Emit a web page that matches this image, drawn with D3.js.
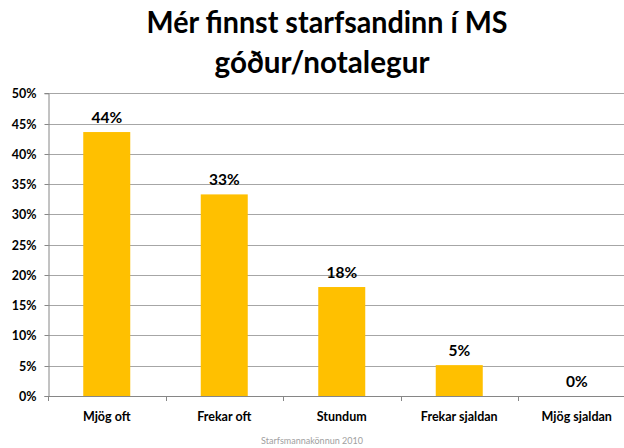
<!DOCTYPE html>
<html lang="is">
<head>
<meta charset="utf-8">
<title>Mér finnst starfsandinn í MS góður/notalegur</title>
<script src="https://d3js.org/d3.v7.min.js"></script>
<style>
  body { margin: 0; background: #fff; }
  svg { display: block; font-family: Lato, "Open Sans", sans-serif; }
</style>
</head>
<body>
<script>
// data
var categories = ["Mjög oft", "Frekar oft", "Stundum", "Frekar sjaldan", "Mjög sjaldan"];
var values = [0.436, 0.333, 0.180, 0.051, 0.0];
var yTicks = [0, 0.05, 0.1, 0.15, 0.2, 0.25, 0.3, 0.35, 0.4, 0.45, 0.5];
var titleLines = ["Mér finnst starfsandinn í MS", "góður/notalegur"];
var sourceNote = "Starfsmannakönnun 2010";

var w = 624, h = 448;
var plotLeft = 48, step = 117.5;
var plotTop = 93.3, plotBottom = 396;

var svg = d3.select("body").append("svg")
  .attr("width", w)
  .attr("height", h);

var x = d3.scaleBand()
  .domain(categories)
  .range([plotLeft, plotLeft + step * categories.length])
  .paddingInner(0.6)
  .paddingOuter(0.3);

var y = d3.scaleLinear()
  .domain([0, 0.5])
  .range([plotBottom, plotTop]);

// title
svg.selectAll("text.title")
  .data(titleLines)
  .enter().append("text")
  .attr("class", "title")
  .attr("x", function(d, i) { return i == 0 ? 327 : 322; })
  .attr("y", function(d, i) { return 33 + i * 40; })
  .attr("text-anchor", "middle")
  .attr("textLength", function(d, i) { return i == 0 ? 361 : 215; })
  .attr("lengthAdjust", "spacingAndGlyphs")
  .style("font-size", "31px")
  .style("font-weight", "bold")
  .style("fill", "#000")
  .text(function(d) { return d; });

// gridlines
svg.append("g")
  .selectAll("line")
  .data(yTicks.slice(1))
  .enter().append("line")
  .attr("x1", plotLeft)
  .attr("x2", w)
  .attr("y1", function(d) { return Math.round(y(d)) + 0.5; })
  .attr("y2", function(d) { return Math.round(y(d)) + 0.5; })
  .style("stroke", "#a6a6a6")
  .style("stroke-width", 1);

// y axis
var yAxis = d3.axisLeft(y)
  .tickValues(yTicks)
  .tickSize(4)
  .tickPadding(8)
  .tickFormat(d3.format(".0%"));

var gy = svg.append("g")
  .attr("transform", "translate(" + (plotLeft + 0.5) + ",0)")
  .call(yAxis);
gy.select(".domain").style("stroke", "#868686");
gy.selectAll(".tick line").style("stroke", "#868686");
gy.selectAll(".tick").attr("transform", function(d) { return "translate(0," + (Math.round(y(d)) + 0.5) + ")"; });
gy.selectAll(".tick text")
  .style("font-family", "Lato, sans-serif")
  .style("font-size", "12.5px")
  .style("font-weight", "bold")
  .style("fill", "#000");

// bars
svg.append("g")
  .selectAll("rect")
  .data(values)
  .enter().append("rect")
  .attr("x", function(d, i) { return x(categories[i]); })
  .attr("y", function(d) { return y(d); })
  .attr("width", x.bandwidth())
  .attr("height", function(d) { return plotBottom - y(d); })
  .style("fill", "#ffc000");

// x axis line + tick marks at category boundaries
var bounds = d3.range(categories.length + 1).map(function(i) { return plotLeft + i * step; });
svg.append("line")
  .attr("x1", plotLeft).attr("x2", w)
  .attr("y1", plotBottom + 0.5).attr("y2", plotBottom + 0.5)
  .style("stroke", "#868686");
svg.append("g")
  .selectAll("line")
  .data(bounds)
  .enter().append("line")
  .attr("x1", function(d) { return Math.round(d) + 0.5; })
  .attr("x2", function(d) { return Math.round(d) + 0.5; })
  .attr("y1", plotBottom)
  .attr("y2", plotBottom + 5)
  .style("stroke", "#868686");

// category labels
svg.append("g")
  .selectAll("text")
  .data(categories)
  .enter().append("text")
  .attr("x", function(d) { return x(d) + x.bandwidth() / 2; })
  .attr("y", 421)
  .attr("text-anchor", "middle")
  .style("font-size", "12.5px")
  .style("font-weight", "bold")
  .style("fill", "#000")
  .text(function(d) { return d; });

// value labels
svg.append("g")
  .selectAll("text")
  .data(values)
  .enter().append("text")
  .attr("x", function(d, i) { return x(categories[i]) + x.bandwidth() / 2; })
  .attr("y", function(d) { return y(d) - 9; })
  .attr("text-anchor", "middle")
  .style("font-size", "15.5px")
  .style("font-weight", "bold")
  .style("fill", "#000")
  .text(function(d) { return d3.format(".0%")(d); });

// source
svg.append("text")
  .attr("x", 312)
  .attr("y", 444)
  .attr("text-anchor", "middle")
  .style("font-size", "9px")
  .style("fill", "#a0a0a0")
  .text(sourceNote);
</script>
</body>
</html>
